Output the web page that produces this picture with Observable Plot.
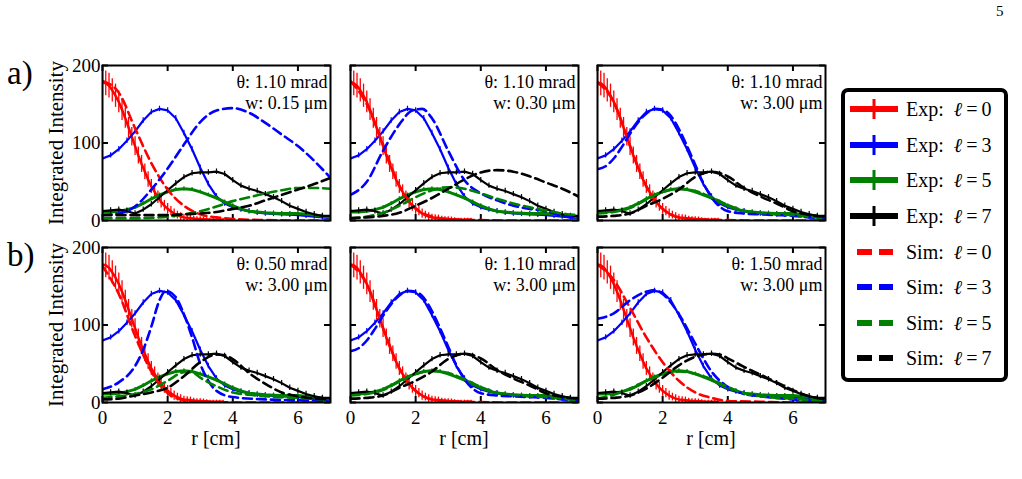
<!DOCTYPE html>
<html><head><meta charset="utf-8">
<script src="https://cdn.jsdelivr.net/npm/d3@7"></script>
<script src="https://cdn.jsdelivr.net/npm/@observablehq/plot@0.6"></script>
<style>
body{margin:0;background:#fff;font-family:'Liberation Serif',serif;color:#000;}
#fig{position:relative;width:1022px;height:479px;overflow:hidden;background:#fff;}
.abs{position:absolute;white-space:nowrap;}
.ylab{font-size:21px;transform:translate(-50%,-50%) rotate(-90deg);}
.xlab{font-size:20px;transform:translate(-50%,-50%);}
.rowlab{font-size:33px;}
#legend{position:absolute;left:841px;top:88px;width:167px;height:294px;box-sizing:border-box;border:4px solid #000;border-radius:7px;background:#fff;}
.lrow{position:absolute;left:0;height:30px;display:flex;align-items:center;}
.lrow span{font-size:20px;margin-left:7px;}
</style></head><body><div id="fig"></div><script>
// ---------- data ----------
const xTicks = [0, 2, 4, 6];
const yTicks = [0, 100, 200];
const seriesNames = ["ℓ = 0", "ℓ = 3", "ℓ = 5", "ℓ = 7"];
const seriesColors = ["#ff0000", "#0000ff", "#008000", "#000000"];

// experiment, l = 0 (dense sampling)
const rRed = [0,0.1,0.2,0.3,0.4,0.5,0.6,0.7,0.8,0.9,1.0,1.1,1.2,1.3,1.4,1.5,1.6,1.7,1.8,1.9,2.0,2.1,2.2,2.3,2.4,2.5,2.6,2.7,2.8,2.9,3.0,3.1,3.2,3.3,3.4,3.5,3.6,3.7];
const expRed = [178,177,174,168,161,153,143,132,120,108,96,84,73,63,53,44,37,30,24,19,15,12,9,7,5,4,3.5,3,2.5,2,2,1.5,1.5,1,1,1,1,1];
const expRedErr = [16,16,16,15,15,14,14,13,13,12,12,11,11,10,10,9,9,8,8,7,7,6,6,5,5,4,4,4,3,3,3,3,2,2,2,2,2,2];

// experiment, l = 3, 5, 7
const rExp = [0,0.25,0.5,0.75,1,1.25,1.5,1.75,2,2.25,2.5,2.75,3,3.25,3.5,3.75,4,4.25,4.5,4.75,5,5.25,5.5,5.75,6,6.25,6.5,6.75,7];
const expBlue = [80,84,92,103,115,129,140,144,142,132,113,92,68,47,31,22,17,14,12,10,9,8.5,8,7.5,7,6,5,4,3];
const expGreen = [11,11,12,14,17,22,28,33,37,40,41,40,37,33,29,24,19,15,12,11,10,9.5,9,9,9,8,7,5.5,4];
const expBlack = [12,13,14,12,9,14,21,30,39,48,56,61,62,62,63,60,52,45,41,38,34,30,25,19,15,11,8,6,6];
const errBlue = 3.5, errGreen = 2.5, errBlack = 3.5;

// simulations [r, intensity]
// a1: theta 1.10 mrad, w 0.15 um
const simA1Red = [[0,180],[0.5,165],[1,119],[1.5,74],[2,40],[2.5,19],[3,8],[3.5,4],[4,2],[5,0.5],[6,0],[7,0]];
const simA1Blue = [[0,7],[0.5,9],[1,18],[1.5,40],[2,67],[2.5,98],[3,127],[3.5,142],[4,145],[4.5,139],[5,126],[5.5,111],[6,96],[6.5,77],[7,55]];
const simA1Green = [[0,3],[1,3],[2,5],[2.5,8],[3,12],[3.5,18],[4,25],[4.5,30],[5,35],[5.5,39],[6,42],[6.5,42],[7,41]];
const simA1Black = [[0,7],[1,7],[2,7],[2.5,8],[3,9],[3.5,11],[4,15],[4.5,19],[5,26],[5.5,33],[6,40],[6.5,47],[7,55]];
// a2: theta 1.10 mrad, w 0.30 um
const simA2Red = [[0,180],[0.5,150],[1,98],[1.5,45],[2,16],[2.5,5],[3,2],[3.5,1],[4,0.5],[5,0],[6,0],[7,0]];
const simA2Blue = [[0,33],[0.5,50],[1,90],[1.5,124],[1.9,142],[2.2,144],[2.5,132],[3,90],[3.5,52],[4,35],[4.5,26],[5,19],[5.5,15],[6,12],[6.5,6],[7,3]];
const simA2Green = [[0,3],[0.5,5],[1,10],[1.5,19],[2,30],[2.5,39],[3,43],[3.5,41],[4,35],[4.5,28],[5,22],[5.5,17],[6,13],[6.5,9],[7,7]];
const simA2Black = [[0,3],[0.5,4],[1,6],[1.5,10],[2,19],[2.5,29],[3,41],[3.5,53],[4,62],[4.5,65],[5,63],[5.5,57],[6,49],[6.5,41],[7,31]];
// a3 / b2: theta 1.10 mrad, w 3.00 um
const simA3Red = [[0,178],[0.5,153],[1,96],[1.5,44],[2,15],[2.5,4],[3,2],[3.5,1],[4,0.5],[5,0],[6,0],[7,0]];
const simA3Blue = [[0,66],[0.25,70],[0.5,80],[0.75,95],[1,112],[1.25,127],[1.5,138],[1.75,144],[2,143],[2.25,135],[2.5,118],[2.75,96],[3,72],[3.25,48],[3.5,30],[3.75,18],[4,12],[4.5,9],[5,8],[5.5,7],[6,6],[6.5,4],[7,2]];
const simA3Green = [[0,9],[0.5,11],[1,16],[1.5,27],[2,37],[2.5,41],[3,38],[3.5,30],[4,20],[4.5,13],[5,10],[5.5,8],[6,7],[6.5,5],[7,3]];
const simA3Black = [[0,5],[0.5,6],[1,9],[1.5,19],[2,28],[2.5,40],[3,56],[3.5,63],[4,57],[4.5,42],[5,31],[5.5,22],[6,12],[6.5,7],[7,5]];
// b1: theta 0.50 mrad, w 3.00 um
const simB1Red = [[0,176],[0.5,140],[1,86],[1.5,40],[2,12],[2.5,3],[3,1],[3.5,0.5],[4,0],[5,0],[6,0],[7,0]];
const simB1Blue = [[0,17],[0.5,26],[1,47],[1.25,68],[1.5,98],[1.75,132],[1.95,144],[2.25,136],[2.5,114],[2.75,84],[3,50],[3.25,28],[3.5,15],[4,7],[5,4],[6,3],[7,2]];
const simB1Green = [[0,6],[0.5,8],[1,11],[1.5,17],[2,28],[2.5,39],[2.75,39],[3,32],[3.5,21],[4,13],[4.5,10],[5,8],[6,6],[7,3]];
const simB1Black = [[0,4],[0.5,5],[1,9],[1.5,13],[2,19],[2.5,34],[3,52],[3.5,62],[3.75,61],[4,56],[4.5,38],[5,24],[5.5,13],[6,8],[6.5,5],[7,4]];
// b3: theta 1.50 mrad, w 3.00 um
const simB3Red = [[0,178],[0.5,158],[1,122],[1.5,84],[2,52],[2.5,28],[3,13],[3.5,6],[4,2],[5,1],[6,0],[7,0]];
const simB3Blue = [[0,108],[0.5,115],[1,132],[1.5,143],[1.75,145],[2,140],[2.5,114],[3,76],[3.5,40],[4,20],[4.5,11],[5,8],[6,4],[7,1]];
const simB3Green = [[0,5],[0.5,10],[1,18],[1.5,28],[2,36],[2.5,40],[3,37],[3.5,30],[4,20],[4.5,12],[5,8],[5.5,6],[6,5],[6.5,3],[7,2]];
const simB3Black = [[0,5],[0.5,6],[1,9],[1.5,18],[2,32],[2.5,48],[3,59],[3.5,63],[3.75,62],[4,57],[4.5,46],[5,36],[5.5,26],[6,16],[6.5,8],[7,4]];

const panelThetas = ["1.10", "1.10", "1.10", "0.50", "1.10", "1.50"];
const panelWidths = ["0.15", "0.30", "3.00", "3.00", "3.00", "3.00"];
const panelSims = [
  [simA1Red, simA1Blue, simA1Green, simA1Black],
  [simA2Red, simA2Blue, simA2Green, simA2Black],
  [simA3Red, simA3Blue, simA3Green, simA3Black],
  [simB1Red, simB1Blue, simB1Green, simB1Black],
  [simA3Red, simA3Blue, simA3Green, simA3Black],
  [simB3Red, simB3Blue, simB3Green, simB3Black]
];
const rowLabels = ["a)", "b)"];

// ---------- layout ----------
const colLeft = [102, 350, 597];
const rowTop = [65, 247];
const innerW = 228, innerH = 155;
const ml = 40, mr = 6, mt = 6, mb = 34;
const fig = document.getElementById("fig");

function place(el, left, top) { el.style.left = left + "px"; el.style.top = top + "px"; fig.appendChild(el); }

const expRedRows = rRed.map((r, i) => ({r, v: expRed[i], e: expRedErr[i]}));
const expOther = [[expBlue, errBlue, 1], [expGreen, errGreen, 2], [expBlack, errBlack, 3]];

panelSims.forEach((sims, idx) => {
  const row = Math.floor(idx / 3), col = idx % 3;
  const isLeft = col === 0, isBottom = row === 1;
  const tk = {stroke: "black", strokeWidth: 2};
  const marks = [
    Plot.tickX(xTicks, {x: d => d, insetTop: innerH - 6, ...tk}),
    Plot.tickX(xTicks, {x: d => d, insetBottom: innerH - 6, ...tk}),
    Plot.tickY(yTicks, {y: d => d, insetRight: innerW - 6, ...tk}),
    Plot.tickY(yTicks, {y: d => d, insetLeft: innerW - 6, ...tk})
  ];
  // experiment
  marks.push(Plot.ruleX(expRedRows, {x: "r", y1: d => d.v - d.e, y2: d => d.v + d.e, stroke: seriesColors[0], strokeWidth: 1.3, clip: true}));
  marks.push(Plot.line(expRedRows, {x: "r", y: "v", stroke: seriesColors[0], strokeWidth: 2.5, clip: true}));
  expOther.forEach(([vals, err, ci]) => {
    const rows = rExp.map((r, i) => ({r, v: vals[i]}));
    marks.push(Plot.ruleX(rows, {x: "r", y1: d => d.v - err, y2: d => d.v + err, stroke: seriesColors[ci], strokeWidth: 1.2, clip: true}));
    marks.push(Plot.line(rows, {x: "r", y: "v", stroke: seriesColors[ci], strokeWidth: ci === 2 ? 3 : 2.2, clip: true}));
  });
  // simulation
  sims.forEach((pairs, ci) => {
    const rows = pairs.map(([r, v]) => ({r, v}));
    marks.push(Plot.line(rows, {x: "r", y: "v", stroke: seriesColors[ci], strokeWidth: 2.6, strokeDasharray: "9,5", curve: "monotone-x", clip: true}));
  });
  marks.push(Plot.frame({stroke: "black", strokeWidth: 2}));
  marks.push(Plot.text([idx], {
    text: i => `θ: ${panelThetas[i]} mrad\nw: ${panelWidths[i]} μm`,
    frameAnchor: "top-right", textAnchor: "end", dx: -3, dy: 8, lineHeight: 1.15, fontSize: 18
  }));
  if (isBottom) marks.push(Plot.axisX({ticks: xTicks, tickSize: 0, tickPadding: 8, label: null, tickFormat: d => String(d)}));
  if (isLeft) marks.push(Plot.axisY({ticks: yTicks, tickSize: 0, tickPadding: 2, label: null, tickFormat: d => String(d)}));

  const chart = Plot.plot({
    width: ml + innerW + mr, height: mt + innerH + mb,
    marginLeft: ml, marginRight: mr, marginTop: mt, marginBottom: mb,
    x: {domain: [0, 7], ...(isBottom ? {} : {axis: null})},
    y: {domain: [0, 200], ...(isLeft ? {} : {axis: null})},
    style: {fontFamily: "'Liberation Serif', serif", fontSize: "19px", background: "transparent", overflow: "visible", color: "black"},
    marks
  });
  chart.style.position = "absolute";
  place(chart, colLeft[col] - ml, rowTop[row] - mt);

  if (isBottom) {
    const xl = document.createElement("div");
    xl.className = "abs xlab"; xl.textContent = "r [cm]";
    place(xl, colLeft[col] + innerW / 2, 438);
  }
});

rowTop.forEach((top, row) => {
  const yl = document.createElement("div");
  yl.className = "abs ylab"; yl.textContent = "Integrated Intensity";
  place(yl, 56, top + innerH / 2);
  const rl = document.createElement("div");
  rl.className = "abs rowlab"; rl.textContent = rowLabels[row];
  place(rl, 7, top - 10);
});

// page number
const pn = document.createElement("div");
pn.className = "abs"; pn.style.fontSize = "15px"; pn.textContent = "5";
place(pn, 996, 3);

// ---------- legend ----------
const legend = document.createElement("div");
legend.id = "legend";
fig.appendChild(legend);
const legendKinds = ["Exp:", "Sim:"];
const legendTops = [109, 145, 180, 216, 252, 287, 323, 358];
legendKinds.forEach((kind, k) => {
  seriesNames.forEach((name, ci) => {
    const row = document.createElement("div");
    row.className = "lrow";
    const c = seriesColors[ci];
    const sw = k === 0
      ? `<svg width="50" height="30"><line x1="1" x2="49" y1="15" y2="15" stroke="${c}" stroke-width="6"/><line x1="25" x2="25" y1="5" y2="25" stroke="${c}" stroke-width="3"/></svg>`
      : `<svg width="50" height="30"><line x1="8" x2="23" y1="15" y2="15" stroke="${c}" stroke-width="6"/><line x1="30" x2="44" y1="15" y2="15" stroke="${c}" stroke-width="6"/></svg>`;
    const parts = name.split(" ");
    row.innerHTML = sw + `<span>${kind}&nbsp;&nbsp;<i>${parts[0]}</i>&thinsp;=&thinsp;${parts[2]}</span>`;
    row.style.top = (legendTops[k * 4 + ci] - 88 - 4 - 15) + "px";
    row.style.left = (849 - 841 - 4) + "px";
    legend.appendChild(row);
  });
});
</script></body></html>
